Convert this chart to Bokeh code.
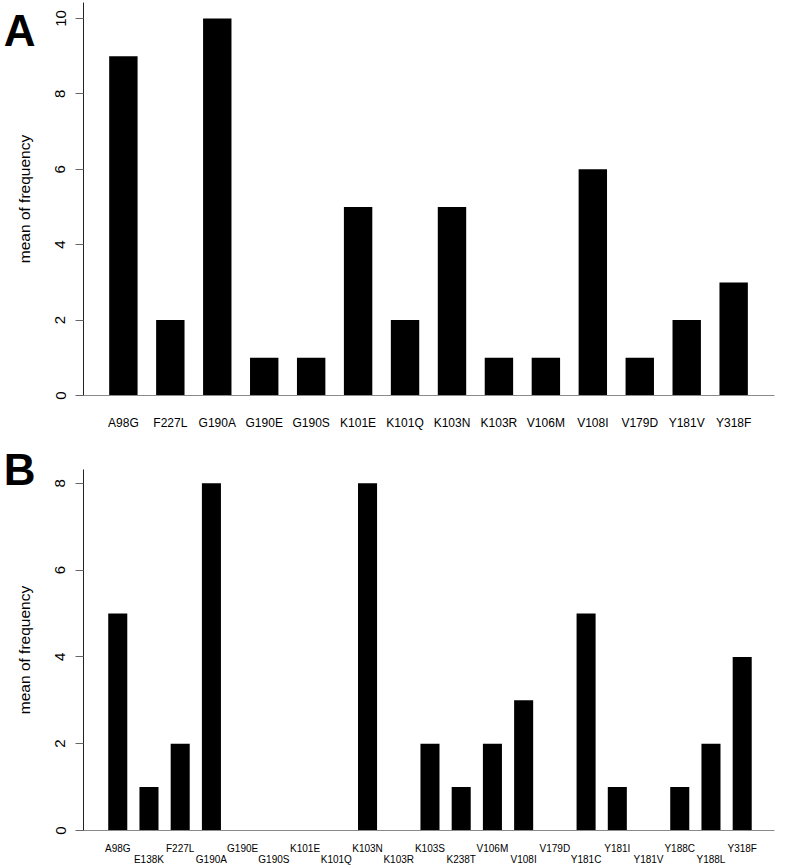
from bokeh.plotting import figure
from bokeh.models import Range1d, FixedTicker, LinearAxis, ColumnDataSource
from bokeh.layouts import column
from bokeh.embed import file_html
from bokeh.resources import INLINE

# ---- data ----
mut_a = ["A98G", "F227L", "G190A", "G190E", "G190S", "K101E", "K101Q",
         "K103N", "K103R", "V106M", "V108I", "V179D", "Y181V", "Y318F"]
freq_a = [9, 2, 10, 1, 1, 5, 2, 5, 1, 1, 6, 1, 2, 3]

mut_b = ["A98G", "E138K", "F227L", "G190A", "G190E", "G190S", "K101E",
         "K101Q", "K103N", "K103R", "K103S", "K238T", "V106M", "V108I",
         "V179D", "Y181C", "Y181I", "Y181V", "Y188C", "Y188L", "Y318F"]
freq_b = [5, 1, 2, 8, 0, 0, 0, 0, 8, 0, 2, 1, 2, 3, 0, 5, 1, 0, 1, 2, 4]

yticks_a = [0, 2, 4, 6, 8, 10]
yticks_b = [0, 2, 4, 6, 8]

FONT = "Liberation Sans"


def panel(cats, vals, yticks, letter, width, height, xr, yr, borders,
          bar_w, xlab_size, xlab_standoff, stagger, letter_y, letter_standoff):
    left, right, top, bottom = borders
    p = figure(width=width, height=height, x_range=Range1d(*xr),
               y_range=Range1d(*yr), output_backend="svg",
               toolbar_location=None, min_border_left=left,
               min_border_right=right, min_border_top=top,
               min_border_bottom=bottom)
    p.outline_line_color = None
    p.xgrid.grid_line_color = None
    p.ygrid.grid_line_color = None
    p.background_fill_color = "white"
    p.border_fill_color = "white"

    idx = list(range(len(cats)))
    src = ColumnDataSource(dict(x=idx, top=vals))
    p.vbar(x="x", top="top", bottom=0, width=bar_w, source=src,
           fill_color="black", line_color=None)

    # x axis
    xa = p.xaxis[0]
    xa.ticker = FixedTicker(ticks=idx)
    if stagger:
        xa.major_label_overrides = {i: (c if i % 2 == 0 else "\n" + c)
                                    for i, c in enumerate(cats)}
        xa.major_label_text_line_height = 1.0
    else:
        xa.major_label_overrides = {i: c for i, c in enumerate(cats)}
    xa.major_tick_line_color = None
    xa.minor_tick_line_color = None
    xa.axis_line_color = "#8a8a8a"
    xa.axis_line_width = 1.2
    xa.major_label_text_font = FONT
    xa.major_label_text_font_size = xlab_size
    xa.major_label_text_color = "black"
    xa.major_label_standoff = xlab_standoff

    # y axis
    ya = p.yaxis[0]
    ya.ticker = FixedTicker(ticks=yticks)
    ya.minor_tick_line_color = None
    ya.major_tick_out = 8
    ya.major_tick_in = 0
    ya.major_tick_line_color = "#666666"
    ya.axis_line_color = "#222222"
    ya.major_label_orientation = "vertical"
    ya.major_label_text_font = FONT
    ya.major_label_text_font_size = "15px"
    ya.major_label_text_color = "black"
    ya.major_label_standoff = 10
    ya.axis_label = "mean of frequency"
    ya.axis_label_text_font = FONT
    ya.axis_label_text_font_size = "15.5px"
    ya.axis_label_text_font_style = "normal"
    ya.axis_label_text_color = "black"
    ya.axis_label_standoff = 20

    # panel letter, carried by an extra (invisible) outer left axis
    la = LinearAxis(ticker=FixedTicker(ticks=[letter_y]),
                    major_label_overrides={letter_y: letter})
    la.axis_line_color = None
    la.major_tick_line_color = None
    la.minor_tick_line_color = None
    la.major_tick_out = 0
    la.major_tick_in = 0
    la.major_label_standoff = letter_standoff
    la.major_label_text_font = FONT
    la.major_label_text_font_size = "44px"
    la.major_label_text_font_style = "bold"
    la.major_label_text_line_height = 0.7
    la.major_label_text_color = "black"
    p.add_layout(la, "left")
    return p


# Panel A geometry (page pixels): bar pitch 47.08, first centre at 121
pa_pitch, pa_c0, pa_unit = 47.08, 121.0, 37.7
pa_h = 437
pa_ytop = (395 - 2) / pa_unit
pa = panel(mut_a, freq_a, yticks_a, "A", 792, pa_h,
           ((81 - pa_c0) / pa_pitch, (774 - pa_c0) / pa_pitch),
           (0, pa_ytop),
           (81, 18, 2, pa_h - 395), 0.605, "12px", 14, False,
           (395 - 19.5) / pa_unit, -23)

pb_pitch, pb_c0, pb_unit = 31.9, 118.0, 43.4
pb_top, pb_h = pa_h, 430
pb_frame_top, pb_frame_bot = 469, 830
pb_ytop = (pb_frame_bot - pb_frame_top) / pb_unit
pb = panel(mut_b, freq_b, yticks_b, "B", 792, pb_h,
           ((83 - pb_c0) / pb_pitch, (789 - pb_c0) / pb_pitch),
           (0, pb_ytop),
           (83, 3, pb_frame_top - pb_top, pb_top + pb_h - pb_frame_bot),
           0.61, "10px", 6, True,
           pb_ytop, -23)

layout = column(pa, pb, spacing=0)
open("out.html", "w").write(file_html(layout, INLINE))
